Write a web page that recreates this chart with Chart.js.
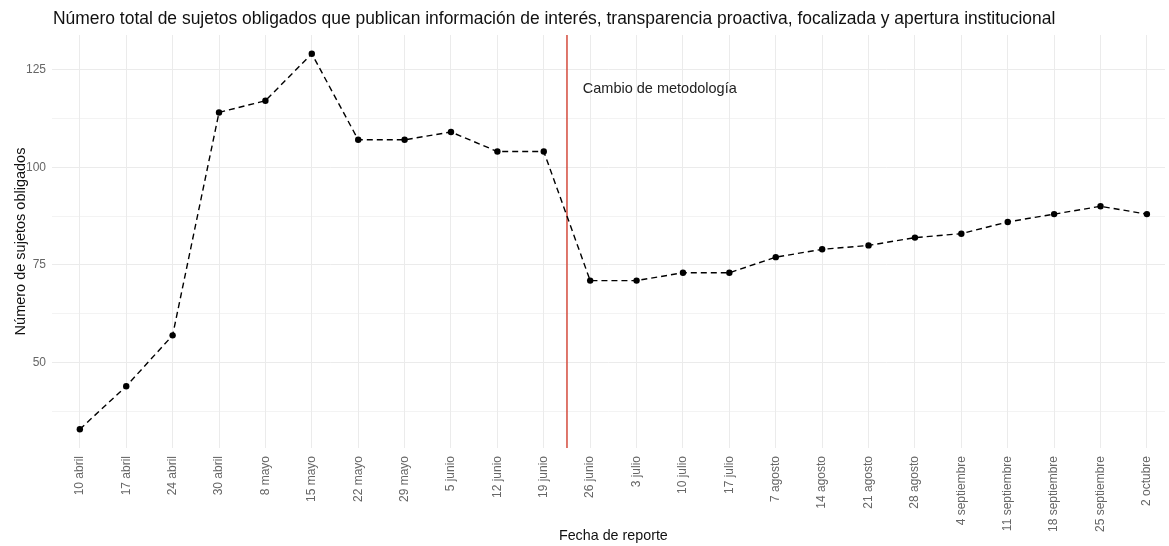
<!DOCTYPE html>
<html>
<head>
<meta charset="utf-8">
<script src="https://cdn.jsdelivr.net/npm/chart.js@4.4.0/dist/chart.umd.min.js"></script>
<style>
  html, body { margin: 0; padding: 0; background: #fff; }
  #wrap { width: 1169px; height: 546px; }
</style>
</head>
<body>
<div id="wrap"><canvas id="c" width="1169" height="546"></canvas></div>
<script>
const categories = ["10 abril","17 abril","24 abril","30 abril","8 mayo","15 mayo","22 mayo","29 mayo","5 junio","12 junio","19 junio","26 junio","3 julio","10 julio","17 julio","7 agosto","14 agosto","21 agosto","28 agosto","4 septiembre","11 septiembre","18 septiembre","25 septiembre","2 octubre"];
const sujetos = [33,44,57,114,117,129,107,107,109,104,104,71,71,73,73,77,79,80,82,83,86,88,90,88];
const yTicks = [37.5,50,62.5,75,87.5,100,112.5,125];
const yTickLabels = ["","50","","75","","100","","125"];
const chartTitle = "Número total de sujetos obligados que publican información de interés, transparencia proactiva, focalizada y apertura institucional";
const xTitle = "Fecha de reporte";
const cambioPos = 10.5;
const cambioLabel = "Cambio de metodología";
const cambioLabelPos = [12.5, 120];

const FONT = "'Liberation Sans', Arial, sans-serif";

const cambioPlugin = {
  id: 'cambio',
  beforeDatasetsDraw(chart) {
    const {ctx, chartArea, scales} = chart;
    const x = scales.x.getPixelForValue(cambioPos);
    ctx.save();
    ctx.strokeStyle = '#d44a3c';
    ctx.lineWidth = 1.5;
    ctx.beginPath();
    ctx.moveTo(x, chartArea.top);
    ctx.lineTo(x, chartArea.bottom);
    ctx.stroke();
    ctx.fillStyle = '#222';
    ctx.font = '14.5px ' + FONT;
    ctx.textAlign = 'center';
    ctx.textBaseline = 'middle';
    ctx.fillText(cambioLabel, scales.x.getPixelForValue(cambioLabelPos[0]), scales.y.getPixelForValue(cambioLabelPos[1]));
    ctx.restore();
  },
  afterDraw(chart) {
    const {ctx, chartArea, scales} = chart;
    ctx.save();
    ctx.fillStyle = '#111';
    ctx.font = '17.45px ' + FONT;
    ctx.textAlign = 'left';
    ctx.textBaseline = 'alphabetic';
    ctx.fillText(chartTitle, chartArea.left + 1, 24);
    ctx.font = '14.3px ' + FONT;
    ctx.textAlign = 'center';
    ctx.textBaseline = 'middle';
    ctx.fillText(xTitle, scales.x.getPixelForValue((categories.length - 1) / 2), 536);
    ctx.restore();
  }
};

new Chart(document.getElementById('c'), {
  type: 'line',
  data: {
    datasets: [{
      data: sujetos.map((v, i) => ({x: i, y: v})),
      borderColor: '#000',
      borderWidth: 1.4,
      borderDash: [6, 4],
      pointRadius: 3.2,
      pointBackgroundColor: '#000',
      pointBorderColor: '#000',
      pointBorderWidth: 0,
      tension: 0,
      fill: false
    }]
  },
  options: {
    responsive: false,
    animation: false,
    devicePixelRatio: 1,
    layout: { padding: { left: 0, right: 0, top: 35, bottom: 0 } },
    plugins: {
      legend: { display: false },
      tooltip: { enabled: false },
      title: { display: false }
    },
    scales: {
      x: {
        type: 'linear',
        min: -0.6,
        max: 23.39,
        border: { display: false },
        grid: { color: '#ebebeb', lineWidth: 1, drawTicks: false },
        afterBuildTicks: s => { s.ticks = categories.map((_, i) => ({value: i})); },
        afterFit: s => { s.height = 98; s.paddingLeft = 0; s.paddingRight = 0; },
        ticks: {
          autoSkip: false,
          maxRotation: 90,
          minRotation: 90,
          padding: 8,
          color: '#666',
          font: { family: FONT, size: 12 },
          callback: v => categories[v]
        },
        title: { display: false }
      },
      y: {
        min: 28.2,
        max: 133.8,
        border: { display: false },
        grid: {
          color: '#ebebeb',
          lineWidth: ctx => (ctx.tick && ctx.tick.value % 25 === 0) ? 1 : 0.6,
          drawTicks: false
        },
        afterBuildTicks: s => { s.ticks = yTicks.map(v => ({value: v})); },
        afterFit: s => { s.width = 52; s.paddingTop = 0; s.paddingBottom = 0; },
        ticks: {
          padding: 6,
          color: '#666',
          font: { family: FONT, size: 12 },
          callback: (v) => yTickLabels[yTicks.indexOf(v)]
        },
        title: {
          display: true,
          text: 'Número de sujetos obligados',
          color: '#111',
          font: { family: FONT, size: 14.5 },
          padding: { top: 12, bottom: 0 }
        }
      }
    }
  },
  plugins: [cambioPlugin]
});
</script>
</body>
</html>
